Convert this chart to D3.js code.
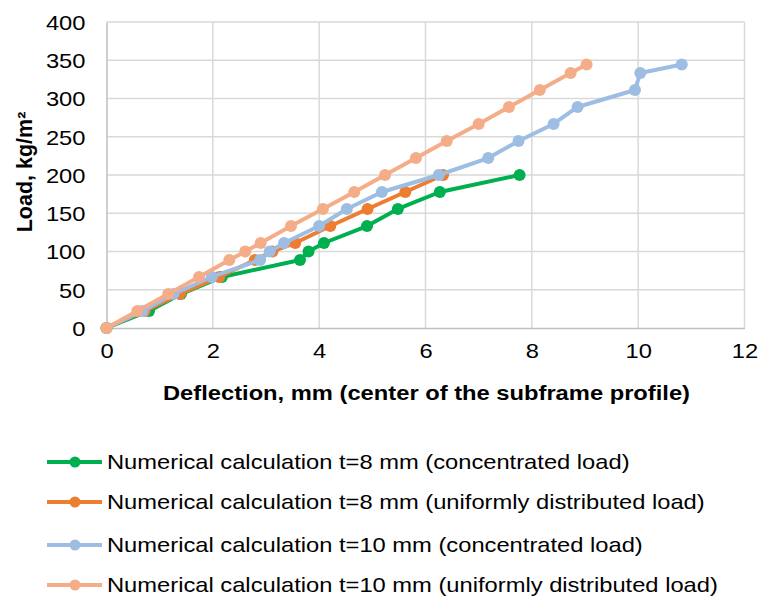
<!DOCTYPE html>
<html>
<head>
<meta charset="utf-8">
<script src="https://cdn.jsdelivr.net/npm/d3@7"></script>
<style>
  body { margin: 0; background: #fff; }
  text { font-family: "Liberation Sans", Arial, sans-serif; fill: #000; }
</style>
</head>
<body>
<svg id="chart" width="760" height="601"></svg>
<script>
// Load steps (kg/m²) for each model
const loadsT8 = [0, 22.2, 44.4, 66.7, 88.9, 100, 111.1, 133.3, 155.6, 177.8, 200];
const loadsT10 = [0, 22.2, 44.4, 66.7, 88.9, 100, 111.1, 133.3, 155.6, 177.8, 200,
                  222.2, 244.4, 266.7, 288.9, 311.1, 333.3, 344.4];

// Deflection (mm) at mid-span of the subframe profile
const deflT8Conc = [0, 0.80, 1.40, 2.17, 3.64, 3.80, 4.09, 4.90, 5.48, 6.27, 7.77];
const deflT8Udl  = [0, 0.72, 1.38, 2.12, 2.79, 3.12, 3.55, 4.21, 4.91, 5.62, 6.33];
const deflT10Conc = [0, 0.68, 1.26, 1.98, 2.89, 3.07, 3.34, 4.00, 4.52, 5.18, 6.25,
                     7.18, 7.75, 8.41, 8.86, 9.94, 10.04, 10.82];
const deflT10Udl  = [0, 0.58, 1.16, 1.74, 2.31, 2.61, 2.90, 3.47, 4.07, 4.66, 5.24,
                     5.82, 6.40, 7.00, 7.57, 8.15, 8.73, 9.03];

const seriesNames = [
  "Numerical calculation t=8 mm (concentrated load)",
  "Numerical calculation t=8 mm (uniformly distributed load)",
  "Numerical calculation t=10 mm (concentrated load)",
  "Numerical calculation t=10 mm (uniformly distributed load)"
];
const seriesColors = ["#00b050", "#ed7d31", "#9dbde3", "#f4ad88"];

const xTicks = [0, 2, 4, 6, 8, 10, 12];
const yTicks = [0, 50, 100, 150, 200, 250, 300, 350, 400];

const series = [
  { x: deflT8Conc, y: loadsT8 },
  { x: deflT8Udl, y: loadsT8 },
  { x: deflT10Conc, y: loadsT10 },
  { x: deflT10Udl, y: loadsT10 }
].map((s, i) => ({
  name: seriesNames[i],
  color: seriesColors[i],
  points: s.x.map((d, j) => ({ x: d, y: s.y[j] }))
}));

const svg = d3.select("#chart");
const SX = 1.13; // horizontal text stretch

const plot = { left: 106.5, right: 744.5, top: 22, bottom: 328 };
const x = d3.scaleLinear().domain([0, 12]).range([plot.left, plot.right]);
const y = d3.scaleLinear().domain([0, 400]).range([plot.bottom, plot.top]);

// Gridlines
const grid = svg.append("g");
grid.selectAll("line.h").data(yTicks.filter(d => d > 0)).join("line")
  .attr("x1", plot.left).attr("x2", plot.right)
  .attr("y1", d => y(d)).attr("y2", d => y(d))
  .attr("stroke", "#d9d9d9").attr("stroke-width", 1.5);
grid.selectAll("line.v").data(xTicks.filter(d => d > 0)).join("line")
  .attr("x1", d => x(d)).attr("x2", d => x(d))
  .attr("y1", plot.top).attr("y2", plot.bottom)
  .attr("stroke", "#d9d9d9").attr("stroke-width", 1.5);

// Axes
const xAxis = svg.append("g").attr("transform", `translate(0,${plot.bottom})`)
  .call(d3.axisBottom(x).tickValues(xTicks).tickSize(0).tickPadding(0).tickFormat(d3.format("d")));
xAxis.select(".domain").attr("stroke", "#bfbfbf").attr("stroke-width", 1.5);
xAxis.selectAll(".tick text")
  .attr("y", null).attr("dy", null)
  .attr("transform", `translate(0,30) scale(${SX},1)`)
  .style("font-size", "21px");

const yAxis = svg.append("g").attr("transform", `translate(${plot.left},0)`)
  .call(d3.axisLeft(y).tickValues(yTicks).tickSize(0).tickPadding(0));
yAxis.select(".domain").attr("stroke", "#bfbfbf").attr("stroke-width", 1.5);
yAxis.selectAll(".tick text")
  .attr("x", null).attr("dy", "0.35em")
  .attr("transform", `translate(-21,0) scale(${SX},1)`)
  .style("font-size", "21px");
svg.selectAll(".tick text").attr("fill", "#000").style("font-family", '"Liberation Sans", Arial, sans-serif');

// Axis titles
svg.append("text")
  .attr("transform", `translate(${(160 + 693) / 2},400) scale(${SX},1)`)
  .attr("text-anchor", "middle")
  .style("font-size", "21px").style("font-weight", "bold")
  .text("Deflection, mm (center of the subframe profile)");

svg.append("text")
  .attr("transform", "translate(32,172) rotate(-90)")
  .attr("text-anchor", "middle")
  .style("font-size", "21.5px").style("font-weight", "bold")
  .text("Load, kg/m²");

// Series lines and markers
const line = d3.line().x(d => x(d.x)).y(d => y(d.y));
const marks = svg.append("g");
series.forEach(s => {
  const g = marks.append("g");
  g.append("path").datum(s.points)
    .attr("d", line).attr("fill", "none")
    .attr("stroke", s.color).attr("stroke-width", 4)
    .attr("stroke-linejoin", "round");
  g.selectAll("circle").data(s.points).join("circle")
    .attr("cx", d => x(d.x)).attr("cy", d => y(d.y))
    .attr("r", 6).attr("fill", s.color);
});

// Legend
const legendY = [462, 502, 545, 585];
const legend = svg.append("g");
series.forEach((s, i) => {
  const g = legend.append("g").attr("transform", `translate(0,${legendY[i]})`);
  g.append("line").attr("x1", 47).attr("x2", 102).attr("y1", 0).attr("y2", 0)
    .attr("stroke", s.color).attr("stroke-width", 4);
  g.append("circle").attr("cx", 75).attr("cy", 0).attr("r", 5.5).attr("fill", s.color);
  g.append("text")
    .attr("transform", `translate(107,0) scale(${SX},1)`)
    .attr("dy", "0.35em")
    .style("font-size", "21px")
    .text(s.name);
});
</script>
</body>
</html>
